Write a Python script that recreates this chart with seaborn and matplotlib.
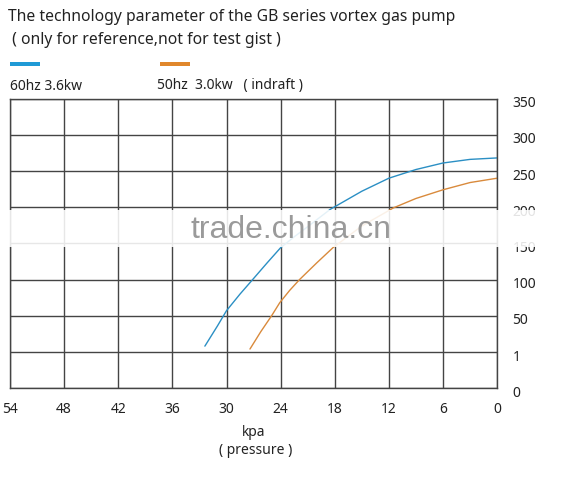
import numpy as np
import pandas as pd
import matplotlib
matplotlib.use('Agg')
import matplotlib.pyplot as plt
import matplotlib.transforms as mtransforms
import seaborn as sns
from matplotlib.patches import Rectangle

kpa_60 = [32.4, 31.0, 30.0, 28.5, 27.1, 25.5, 24.0, 22.5, 21.0, 18.5, 15.0, 12.0, 9.0, 6.0, 3.0, 0.0]
flow_60 = [8, 36, 57, 80, 100, 123, 144, 159, 173, 197, 222, 240, 252, 261, 266, 268]

kpa_50 = [27.4, 26.2, 25.0, 24.1, 23.0, 21.9, 20.0, 18.2, 15.0, 11.5, 9.0, 6.0, 3.0, 0.0]
flow_50 = [4, 28, 50, 68, 85, 100, 123, 144, 174, 199, 212, 224, 234, 240]

x_ticks = [54, 48, 42, 36, 30, 24, 18, 12, 6, 0]
y_ticks = [-50, 0, 50, 100, 150, 200, 250, 300, 350]
y_labels = ['0', '1', '50', '100', '150', '200', '250', '300', '350']

blue = '#2b8fc4'
orange = '#d98a3c'

df = pd.concat([
    pd.DataFrame({'kpa': kpa_60, 'flow': flow_60, 'series': '60hz'}),
    pd.DataFrame({'kpa': kpa_50, 'flow': flow_50, 'series': '50hz'}),
])

sns.set_style('white')
plt.rcParams['font.family'] = ['Noto Sans', 'DejaVu Sans']

fig = plt.figure(figsize=(5.82, 4.81), dpi=100)
ax = fig.add_axes([0.0172, 0.191, 0.837, 0.602])

sns.lineplot(data=df, x='kpa', y='flow', hue='series', palette={'60hz': blue, '50hz': orange},
             linewidth=1.0, legend=False, ax=ax, sort=False)

ax.set_xlim(54, 0)
ax.set_ylim(-50, 350)
ax.set_xticks(x_ticks)
ax.set_xticklabels([str(t) for t in x_ticks])
ax.set_yticks(y_ticks)
ax.set_yticklabels(y_labels)
ax.yaxis.tick_right()
ax.tick_params(axis='both', length=0, labelsize=10, colors='#222222')
ax.tick_params(axis='x', pad=9)
ax.tick_params(axis='y', pad=11)
ax.grid(True, color='#444444', linewidth=1.0)
for s in ax.spines.values():
    s.set_color('#444444')
    s.set_linewidth(1.0)
ax.set_xlabel('')
ax.set_ylabel('')
# right-hand labels sit a touch below their grid lines in the original
offset = mtransforms.ScaledTranslation(0, -1.5 / 72, fig.dpi_scale_trans)
for lab in ax.get_yticklabels():
    lab.set_transform(lab.get_transform() + offset)

# title
fig.text(0.014, 0.965, 'The technology parameter of the GB series vortex gas pump',
         fontsize=11.3, color='#222222', va='center')
fig.text(0.014, 0.917, ' ( only for reference,not for test gist )',
         fontsize=11.3, color='#222222', va='center')

# legend
fig.patches.append(Rectangle((10 / 582, 1 - 67 / 481), 30 / 582, 4 / 481,
                             transform=fig.transFigure, facecolor='#1f9ad6', lw=0))
fig.patches.append(Rectangle((160 / 582, 1 - 67 / 481), 30 / 582, 4 / 481,
                             transform=fig.transFigure, facecolor='#e0872c', lw=0))
fig.text(10 / 582, 1 - 86 / 481, '60hz 3.6kw', fontsize=10, color='#222222', va='center')
fig.text(157 / 582, 1 - 86 / 481, '50hz  3.0kw   ( indraft )', fontsize=10, color='#222222', va='center')

# axis caption
fig.text(254 / 582, 1 - 432 / 481, 'kpa', fontsize=10, color='#222222', ha='center', va='center')
fig.text(256 / 582, 1 - 450 / 481, '( pressure )', fontsize=10, color='#222222', ha='center', va='center')

# watermark band
fig.patches.append(Rectangle((0, 1 - 248 / 481), 570 / 582, 37 / 481,
                             transform=fig.transFigure, facecolor='white', lw=0, alpha=0.88, zorder=10))
fig.text(291 / 582, 1 - 230 / 481, 'trade.china.cn', fontsize=23, color='#9a9a9a',
         family=['Liberation Sans', 'DejaVu Sans'], ha='center', va='center', zorder=11)

fig.savefig('out.png', dpi=100)
